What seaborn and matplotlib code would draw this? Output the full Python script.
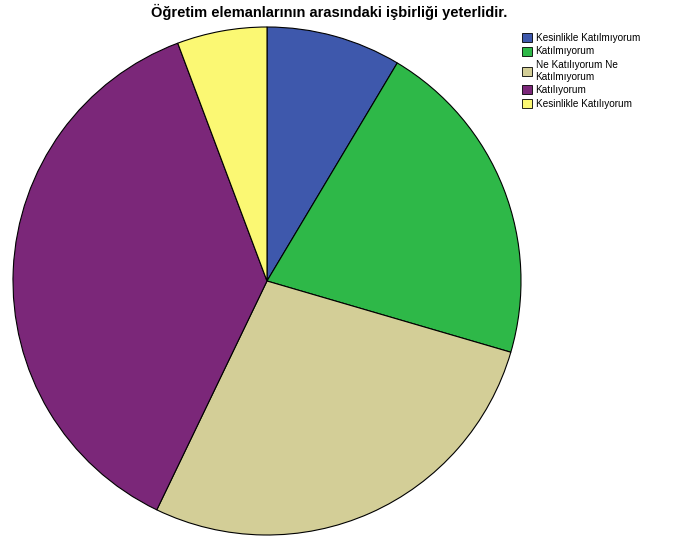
import matplotlib
matplotlib.use('Agg')
import matplotlib.pyplot as plt
import seaborn as sns
from matplotlib.patches import Patch

# Response categories and counts
labels = ['Kesinlikle Katılmıyorum', 'Katılmıyorum', 'Ne Katılıyorum Ne\nKatılmıyorum',
          'Katılıyorum', 'Kesinlikle Katılıyorum']
counts = [9, 22, 29, 39, 6]
colors = sns.color_palette(['#3e58ac', '#2eb848', '#d3ce97', '#7b2779', '#fbf873'])

sns.set_style('white')
plt.rcParams['font.family'] = ['Liberation Sans', 'DejaVu Sans']
plt.rcParams['text.color'] = 'black'

fig = plt.figure(figsize=(6.81, 5.37), dpi=100)
ax = fig.add_axes([13 / 681, 2 / 537, 508 / 681, 508 / 537])
ax.pie(counts, colors=colors, startangle=90, counterclock=False,
       wedgeprops=dict(edgecolor='black', linewidth=0.8))
ax.set_xlim(-1.0, 1.0)
ax.set_ylim(-1.0, 1.0)
ax.set_aspect('equal')
ax.axis('off')

fig.text(329 / 681, 1 - 12 / 537, 'Öğretim elemanlarının arasındaki işbirliği yeterlidir.',
         ha='center', va='center', fontsize=10.5, fontweight='bold', color='black')

handles = [Patch(facecolor=c, edgecolor='black', linewidth=0.6) for c in colors]
leg = fig.legend(handles, labels, loc='upper left', bbox_to_anchor=(515 / 681, 1 - 26 / 537),
                 frameon=False, fontsize=7.2, handlelength=1.0, handleheight=1.0,
                 handletextpad=0.35, labelspacing=0.35, borderpad=0.2)
for t in leg.get_texts():
    t.set_color('black')

fig.savefig('out.png', dpi=100)
